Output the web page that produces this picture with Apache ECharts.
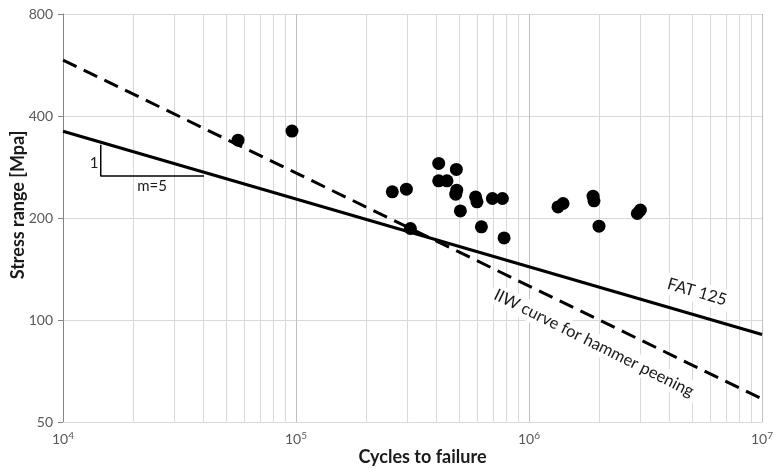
<!DOCTYPE html>
<html><head><meta charset="utf-8">
<script src="https://cdn.jsdelivr.net/npm/echarts@6/dist/echarts.min.js"></script>
<style>html,body{margin:0;padding:0;background:#fff}#c{width:784px;height:472px}</style>
</head><body><div id="c"></div>
<script>
// ---- data ----
const xTickValues = [1e4, 1e5, 1e6, 1e7];
const yTickValues = [50, 100, 200, 400, 800];
const minorXValues = [2e4,3e4,4e4,5e4,6e4,7e4,8e4,9e4,2e5,3e5,4e5,5e5,6e5,7e5,8e5,9e5,2e6,3e6,4e6,5e6,6e6,7e6,8e6,9e6];
const testCycles = [56400, 96100, 259000, 297700, 309700, 409700, 409700, 444600, 487800, 489600, 484800, 507600, 590000, 598000, 624800, 696500, 769000, 781600, 1332000, 1400000, 1883000, 1901000, 1997000, 2917000, 3006000];
const testStress = [339.5, 361, 238.9, 243.3, 186.2, 289.8, 257.4, 257.4, 278.2, 241.7, 235.2, 209.9, 230.8, 223.2, 188.3, 228.3, 228.3, 174.7, 215.7, 220.7, 232, 224.7, 189.2, 206.2, 211];
const fatCycles = [1e4, 1e7];
const fatStress = [360.6, 90.6];
const iiwCycles = [1e4, 1e7];
const iiwStress = [585, 58.5];
const slopeCycles = [14520, 14520, 40300];
const slopeStress = [329, 266, 266];

const FONT = 'Lato';
const zip = (a, b) => a.map((v, i) => [v, b[i]]);
const snap = (v, list) => list.reduce((best, t) => Math.abs(Math.log(t / v)) < Math.abs(Math.log(best / v)) ? t : best, list[0]);

const chart = echarts.init(document.getElementById('c'), null, {renderer: 'canvas'});
chart.setOption({
  animation: false,
  backgroundColor: '#fff',
  grid: {left: 63, right: 22, top: 14, bottom: 50, containLabel: false, outerBoundsMode: 'none'},
  xAxis: {
    type: 'log', logBase: 10, min: 1e4, max: 1e7,
    name: 'Cycles to failure', nameLocation: 'middle', nameGap: 26, nameMoveOverlap: false,
    nameTextStyle: {fontFamily: FONT, fontWeight: 'bold', fontSize: 18, color: '#1a1a1a', padding: [0, 0, 0, 20]},
    axisLine: {show: true, lineStyle: {color: '#d9d9d9', width: 1}},
    axisTick: {show: false},
    splitLine: {show: true, lineStyle: {color: '#bfbfbf', width: 1}},
    axisLabel: {
      margin: 9,
      formatter: v => '{b|10}{s|' + Math.round(Math.log10(snap(v, xTickValues))) + '}',
      rich: {
        b: {fontFamily: FONT, fontSize: 14, color: '#595959'},
        s: {fontFamily: FONT, fontSize: 10, color: '#595959', padding: [0, 0, 7, 0]}
      }
    }
  },
  yAxis: {
    type: 'log', logBase: 2, min: 50, max: 800, interval: 1,
    name: 'Stress range [Mpa]', nameLocation: 'middle', nameGap: 36, nameMoveOverlap: false,
    nameTextStyle: {fontFamily: FONT, fontWeight: 'bold', fontSize: 18, color: '#1a1a1a', padding: [0, 0, 0, 26]},
    axisLine: {show: true, lineStyle: {color: '#868686', width: 1}},
    axisTick: {show: true, inside: false, length: 5, lineStyle: {color: '#868686'}},
    splitLine: {show: true, lineStyle: {color: '#d9d9d9', width: 1}},
    axisLabel: {margin: 10, fontFamily: FONT, fontSize: 14, color: '#595959',
      formatter: v => String(snap(v, yTickValues))}
  },
  graphic: [
    {type: 'text', x: 697, y: 292, rotation: -0.284, z: 1,
     style: {text: 'FAT 125', font: '16.5px ' + FONT, fill: '#1a1a1a', align: 'center', verticalAlign: 'middle',
             backgroundColor: '#fff', padding: [2, 4]}},
    {type: 'text', x: 594, y: 343, rotation: -0.463, z: 1,
     style: {text: 'IIW curve for hammer peening', font: '16.5px ' + FONT, fill: '#1a1a1a', align: 'center', verticalAlign: 'middle',
             backgroundColor: '#fff', padding: [2, 4]}},
    {type: 'text', x: 94, y: 163, z: 5,
     style: {text: '1', font: '15px ' + FONT, fill: '#1a1a1a', align: 'center', verticalAlign: 'middle'}},
    {type: 'text', x: 152, y: 186, z: 5,
     style: {text: 'm=5', font: '15px ' + FONT, fill: '#1a1a1a', align: 'center', verticalAlign: 'middle'}}
  ],
  series: [
    {type: 'line', data: [], silent: true, z: 0,
     markLine: {silent: true, z: 0, symbol: 'none', label: {show: false}, animation: false,
       lineStyle: {color: '#d9d9d9', width: 1, type: 'solid'},
       data: minorXValues.map(v => ({xAxis: v}))}},
    {type: 'line', name: 'FAT 125', data: zip(fatCycles, fatStress), showSymbol: false, symbol: 'none', z: 3,
     lineStyle: {color: '#000', width: 3}},
    {type: 'line', name: 'IIW', data: zip(iiwCycles, iiwStress), showSymbol: false, symbol: 'none', z: 3,
     lineStyle: {color: '#000', width: 3, type: [15, 8], cap: 'butt'}},
    {type: 'line', name: 'slope', data: zip(slopeCycles, slopeStress), showSymbol: false, symbol: 'none', z: 3,
     lineStyle: {color: '#000', width: 1.5}},
    {type: 'scatter', name: 'tests', data: zip(testCycles, testStress), symbol: 'circle', symbolSize: 13, z: 4,
     itemStyle: {color: '#000', opacity: 1}}
  ]
});
</script></body></html>
